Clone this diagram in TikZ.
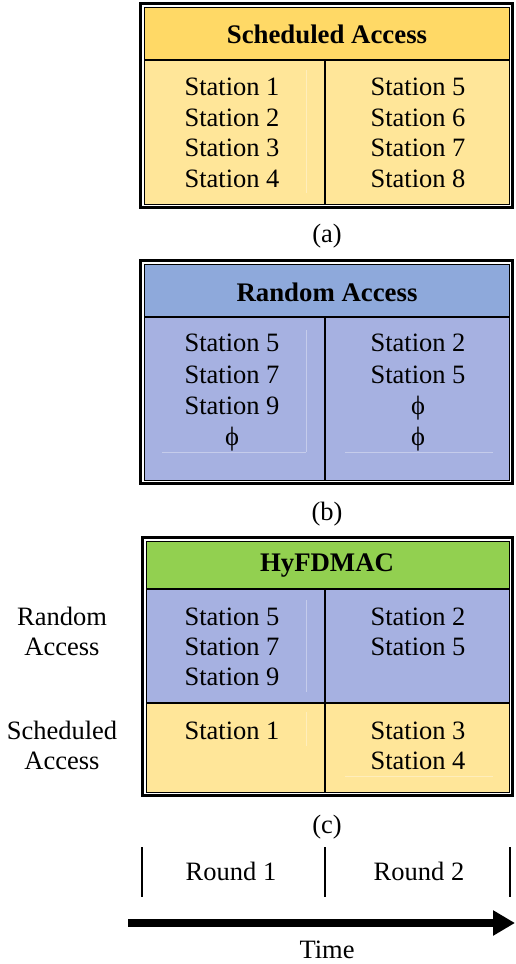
\documentclass[tikz,border=0pt]{standalone}
\usepackage{fontspec}
\setmainfont{Liberation Serif}
\usetikzlibrary{arrows.meta}
\definecolor{schedH}{HTML}{FFD966}
\definecolor{schedB}{HTML}{FFE699}
\definecolor{randH}{HTML}{8EA9DB}
\definecolor{randB}{HTML}{A6B1E1}
\definecolor{greenH}{HTML}{92D050}
\newcommand\myframe[4]{%
  \draw[line width=3pt] (#1+1.5,#2+1.5) rectangle (#3-1.5,#4-1.5);
  \draw[line width=1.4pt] (#1+5.5,#2+5.5) rectangle (#3-4.5,#4-4.5);}
\begin{document}
\begin{tikzpicture}[x=1pt,y=-1pt,
  txt/.style={font=\fontsize{26.5}{30.5}\selectfont, inner sep=0pt, anchor=base},
  hdr/.style={font=\fontsize{26.8}{30}\selectfont\bfseries, inner sep=0pt, anchor=base},
  grid/.style={line width=2.6pt},
  faint/.style={line width=0.6pt, white, opacity=0.35}]
\useasboundingbox (0,0) rectangle (515,964);
% ---------- (a) ----------
\fill[schedB] (144,7) rectangle (510,205);
\fill[schedH] (144,7) rectangle (510,60);
\draw[faint] (306,70) -- (306,193);
\draw[grid] (144,60) -- (510,60);
\draw[grid] (325,60) -- (325,205);
\myframe{139}{2}{514}{209}
\node[hdr] (ahdr) at (327,43.5) {Scheduled Access};
\node[txt] (a1) at (232,95.5) {Station 1};
\node[txt] (a2) at (232,126) {Station 2};
\node[txt] (a3) at (232,156.5) {Station 3};
\node[txt] (a4) at (232,187.5) {Station 4};
\node[txt] (a5) at (418,95.5) {Station 5};
\node[txt] (a6) at (418,126) {Station 6};
\node[txt] (a7) at (418,156.5) {Station 7};
\node[txt] (a8) at (418,187.5) {Station 8};
\node[txt] (alab) at (327,242.5) {(a)};
% ---------- (b) ----------
\fill[randB] (144,264) rectangle (510,480);
\fill[randH] (144,264) rectangle (510,317);
\draw[faint] (306,330) -- (306,452);
\draw[faint] (162,452) -- (306,452);
\draw[faint] (345,452) -- (493,452);
\draw[grid] (144,317) -- (510,317);
\draw[grid] (325,317) -- (325,480);
\myframe{139}{259}{514}{485}
\node[hdr] (bhdr) at (327,301.5) {Random Access};
\node[txt] (b1) at (232,351.5) {Station 5};
\node[txt] (b2) at (232,383.5) {Station 7};
\node[txt] (b3) at (232,414.5) {Station 9};
\node[txt] (b4) at (232,445) {ϕ};
\node[txt] (b5) at (418,351.5) {Station 2};
\node[txt] (b6) at (418,383.5) {Station 5};
\node[txt] (b7) at (418,414.5) {ϕ};
\node[txt] (b8) at (418,445) {ϕ};
\node[txt] (blab) at (327,520.5) {(b)};
% ---------- (c) ----------
\fill[schedB] (146,703) rectangle (510,792);
\fill[randB] (146,589) rectangle (510,703);
\fill[greenH] (146,541) rectangle (510,589);
\draw[faint] (306,600) -- (306,692);
\draw[faint] (306,712) -- (306,746);
\draw[faint] (345,776) -- (493,776);
\draw[grid] (146,589) -- (510,589);
\draw[grid] (146,703) -- (510,703);
\draw[grid] (325,589) -- (325,792);
\myframe{141}{536}{514}{797}
\node[hdr] (chdr) at (327,571.5) {HyFDMAC};
\node[txt] (c1) at (232,625.5) {Station 5};
\node[txt] (c2) at (232,655.5) {Station 7};
\node[txt] (c3) at (232,685.5) {Station 9};
\node[txt] (c4) at (418,625.5) {Station 2};
\node[txt] (c5) at (418,655.5) {Station 5};
\node[txt] (c6) at (232,739.5) {Station 1};
\node[txt] (c7) at (418,739.5) {Station 3};
\node[txt] (c8) at (418,769.5) {Station 4};
\node[txt] (ra1) at (62,625.5) {Random};
\node[txt] (ra2) at (62,655.5) {Access};
\node[txt] (sa1) at (62,739.5) {Scheduled};
\node[txt] (sa2) at (62,769.5) {Access};
\node[txt] (clab) at (327,833.5) {(c)};
% ---------- timeline ----------
\coordinate (t1a) at (142,847); \coordinate (t1b) at (142,897);
\coordinate (t2a) at (325,847); \coordinate (t2b) at (325,897);
\coordinate (t3a) at (510,847); \coordinate (t3b) at (510,897);
\draw[line width=2pt] (t1a) -- (t1b) (t2a) -- (t2b) (t3a) -- (t3b);
\node[txt] (r1) at (231,880.5) {Round 1};
\node[txt] (r2) at (419,880.5) {Round 2};
\coordinate (arS) at (128,923);
\coordinate (arE) at (515,923);
\draw[line width=7.3pt, -{Triangle[length=22pt,width=24pt]}] (arS) -- (arE);
\node[txt] (time) at (327,958.5) {Time};
\end{tikzpicture}
\end{document}
